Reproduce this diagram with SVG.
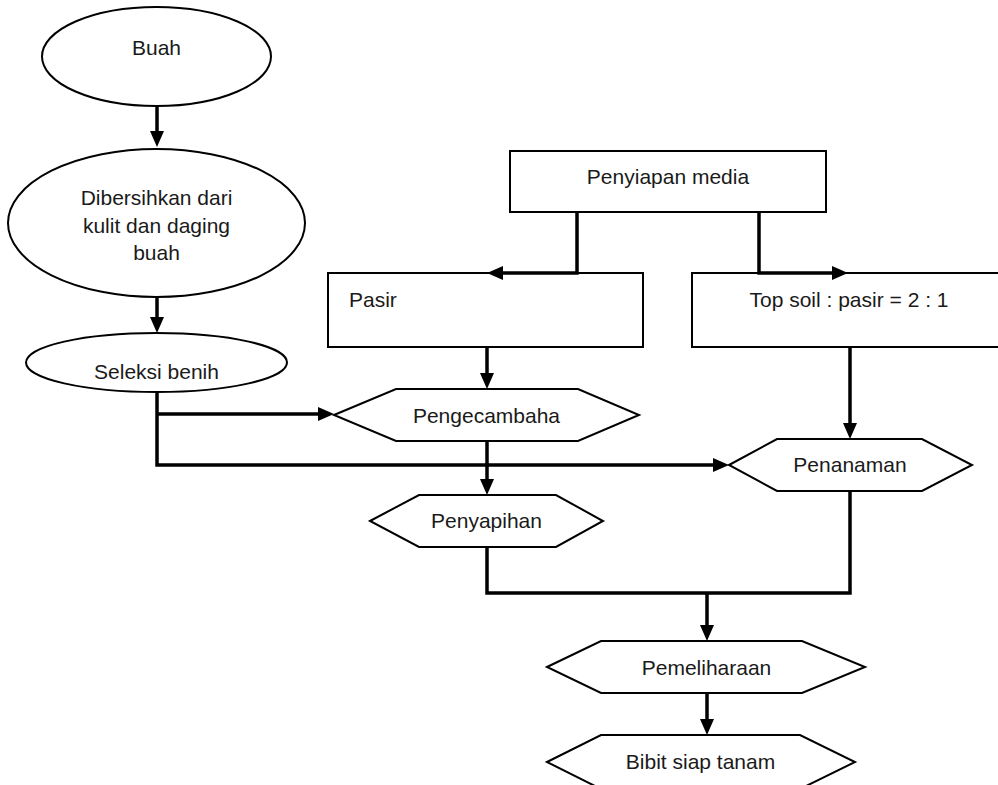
<svg xmlns="http://www.w3.org/2000/svg" width="998" height="785" viewBox="0 0 998 785">
  <style>
    .shape { fill: #ffffff; stroke: #000000; stroke-width: 2; }
    .label { font-family: "Liberation Sans", Arial, sans-serif; font-size: 21px; fill: #1a1a1a; }
    .mid { text-anchor: middle; }
    .conn { fill: none; stroke: #000000; stroke-width: 3.5; stroke-linejoin: miter; }
  </style>
  <defs>
    <marker id="arrow" viewBox="0 0 16 14" refX="6" refY="7" markerWidth="16" markerHeight="14" markerUnits="userSpaceOnUse" orient="auto">
      <path d="M0,0 L16,7 L0,14 z" fill="#000000"/>
    </marker>
  </defs>
  <rect width="998" height="785" fill="#ffffff"/>

  <!-- nodes -->
  <g id="buah">
    <ellipse class="shape" cx="156.5" cy="56.5" rx="114.5" ry="49.5"/>
    <text class="label mid" x="156.5" y="55">Buah</text>
  </g>
  <g id="dibersihkan">
    <ellipse class="shape" cx="156.5" cy="223" rx="148.5" ry="74"/>
    <text class="label mid" x="156.5" y="205">Dibersihkan dari</text>
    <text class="label mid" x="156.5" y="232.5">kulit dan daging</text>
    <text class="label mid" x="156.5" y="260">buah</text>
  </g>
  <g id="seleksi">
    <ellipse class="shape" cx="156.5" cy="362.5" rx="130.5" ry="29.5"/>
    <text class="label mid" x="156.5" y="379">Seleksi benih</text>
  </g>
  <g id="penyiapan">
    <rect class="shape" x="510" y="151" width="316" height="61"/>
    <text class="label mid" x="668" y="184">Penyiapan media</text>
  </g>
  <g id="pasir">
    <rect class="shape" x="328" y="273" width="315" height="74"/>
    <text class="label" x="349" y="307">Pasir</text>
  </g>
  <g id="topsoil">
    <rect class="shape" x="692" y="273" width="320" height="74"/>
    <text class="label mid" x="849" y="307">Top soil : pasir = 2 : 1</text>
  </g>
  <g id="pengecambaha">
    <polygon class="shape" points="334,415 396,389 578,389 639,415 578,441 396,441"/>
    <text class="label mid" x="486.5" y="423">Pengecambaha</text>
  </g>
  <g id="penyapihan">
    <polygon class="shape" points="370,521 419,495 556,495 603,521 556,547 419,547"/>
    <text class="label mid" x="486.5" y="528">Penyapihan</text>
  </g>
  <g id="penanaman">
    <polygon class="shape" points="729,465 777,439 922,439 972,465 922,491 777,491"/>
    <text class="label mid" x="850" y="472">Penanaman</text>
  </g>
  <g id="pemeliharaan">
    <polygon class="shape" points="547,667 601,641 802,641 865,667 802,693 601,693"/>
    <text class="label mid" x="706.5" y="675">Pemeliharaan</text>
  </g>
  <g id="bibit">
    <polygon class="shape" points="547,762 601,735 800,735 855,762 800,789 601,789"/>
    <text class="label mid" x="700.5" y="769">Bibit siap tanam</text>
  </g>

  <!-- connectors -->
  <g id="connectors">
    <path class="conn" d="M157,106 V137" marker-end="url(#arrow)"/>
    <path class="conn" d="M157,297 V323" marker-end="url(#arrow)"/>
    <path class="conn" d="M157,392 V465 H719" marker-end="url(#arrow)"/>
    <path class="conn" d="M157,414 H324" marker-end="url(#arrow)"/>
    <path class="conn" d="M577,212 V273 H497" marker-end="url(#arrow)"/>
    <path class="conn" d="M759,212 V273 H838" marker-end="url(#arrow)"/>
    <path class="conn" d="M487,347 V379" marker-end="url(#arrow)"/>
    <path class="conn" d="M487,441 V485" marker-end="url(#arrow)"/>
    <path class="conn" d="M850,347 V429" marker-end="url(#arrow)"/>
    <path class="conn" d="M487,547 V593 H850 V491"/>
    <path class="conn" d="M707,593 V631" marker-end="url(#arrow)"/>
    <path class="conn" d="M707,693 V725" marker-end="url(#arrow)"/>
  </g>
</svg>
